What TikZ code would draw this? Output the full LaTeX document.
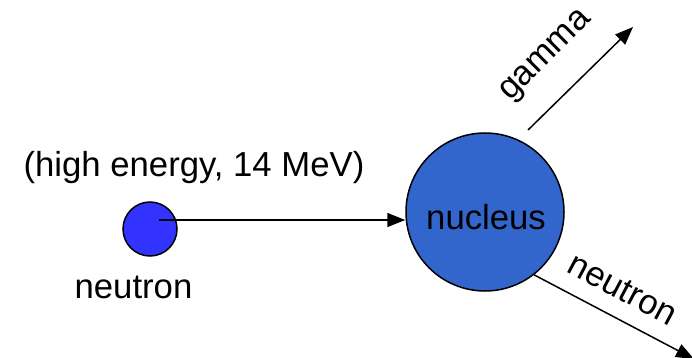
\documentclass[tikz,border=0pt]{standalone}
\usepackage{fontspec}
\setmainfont{Liberation Sans}
\usetikzlibrary{arrows.meta,calc}
\definecolor{smallblue}{HTML}{3333FF}
\definecolor{nucblue}{HTML}{3366CC}
\begin{document}
\begin{tikzpicture}[x=1pt,y=-1pt,
  lab/.style={font=\fontsize{34.7}{40}\selectfont, inner sep=0pt},
  ball/.style={circle, draw=black, line width=1.5pt, inner sep=0pt},
  conn/.style={line width=1.5pt, -{Triangle[length=18pt,width=14pt]}}]
\useasboundingbox (0,0) rectangle (692,358);
\node[ball, fill=smallblue, minimum size=54pt] (n) at (150,229) {};
\node[ball, fill=nucblue, minimum size=158pt] (nuc) at (485,212) {};
\node[lab, anchor=base] (nuctext) at (486,229) {nucleus};
\node[lab, anchor=base] (energy) at (194,176) {(high energy, 14 MeV)};
\node[lab, anchor=base] (nlab) at (133.5,298) {neutron};
\coordinate (s) at (159,220);
\coordinate (g1) at (528,130);
\coordinate (g2) at (633,27);
\coordinate (o2) at (694,359);
\draw[conn] (s) -- (s -| nuc.west);
\draw[conn] (g1) -- (g2);
\draw[conn] (nuc.-52) -- (o2);
\node[lab, rotate=45] (gam) at (547,57) {gamma};
\node[lab, rotate=-28] (nout) at (623,289) {neutron};
\end{tikzpicture}
\end{document}
